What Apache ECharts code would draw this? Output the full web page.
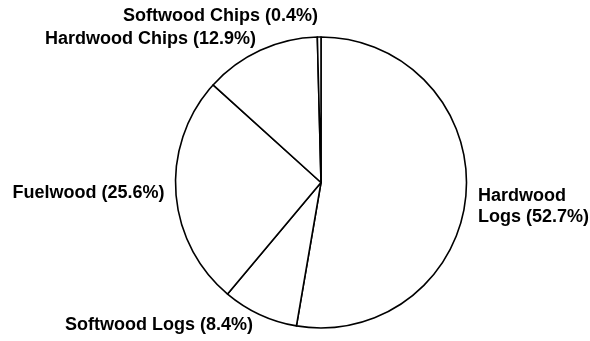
<!DOCTYPE html>
<html>
<head>
<meta charset="utf-8">
<script src="https://cdn.jsdelivr.net/npm/echarts@6/dist/echarts.min.js"></script>
<style>
html,body{margin:0;padding:0;background:#fff;}
#chart{width:590px;height:341px;}
</style>
</head>
<body>
<div id="chart"></div>
<script>
const categories = ['Hardwood Logs', 'Softwood Logs', 'Fuelwood', 'Hardwood Chips', 'Softwood Chips'];
const labelNames = ['Hardwood\nLogs', 'Softwood Logs', 'Fuelwood', 'Hardwood Chips', 'Softwood Chips'];
const shares = [52.7, 8.4, 25.6, 12.9, 0.4];

// label anchor positions (layout only)
const labelPos = [
  {x: 478, y: 206.5},
  {x: 65, y: 325.5},
  {x: 12.5, y: 193},
  {x: 45, y: 39.5},
  {x: 123, y: 16}
];

const chart = echarts.init(document.getElementById('chart'), null, {renderer: 'canvas'});
chart.setOption({
  animation: false,
  backgroundColor: '#fff',
  series: [{
    type: 'pie',
    center: [321, 182.5],
    radius: 145.5,
    startAngle: 90,
    clockwise: true,
    avoidLabelOverlap: false,
    silent: true,
    itemStyle: {color: '#fff', borderColor: '#000', borderWidth: 1.6},
    label: {
      show: true,
      position: 'outside',
      color: '#000',
      fontFamily: 'Liberation Sans, Arial, sans-serif',
      fontWeight: 'bold',
      fontSize: 18,
      lineHeight: 21,
      formatter: p => labelNames[p.dataIndex] + ' (' + shares[p.dataIndex] + '%)'
    },
    labelLine: {show: false},
    labelLayout: p => Object.assign({align: 'left', verticalAlign: 'middle', hideOverlap: false}, labelPos[p.dataIndex]),
    data: categories.map((c, i) => ({name: c, value: shares[i]}))
  }]
});
</script>
</body>
</html>
